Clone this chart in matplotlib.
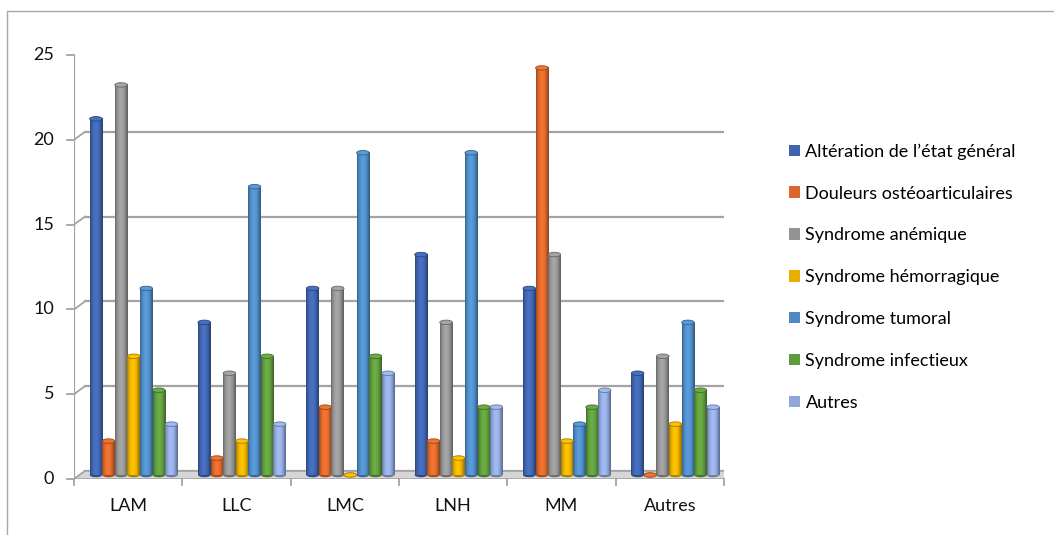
import numpy as np
import matplotlib
matplotlib.use('Agg')
import matplotlib.pyplot as plt
from matplotlib.patches import Ellipse, Polygon, Rectangle, Patch
from matplotlib.transforms import ScaledTranslation, IdentityTransform
from matplotlib.colors import to_rgb

plt.rcParams['font.family'] = ['Lato', 'DejaVu Sans']

# Données
categories = ['LAM', 'LLC', 'LMC', 'LNH', 'MM', 'Autres']
series = ['Altération de l\u2019état général', 'Douleurs ostéoarticulaires',
          'Syndrome anémique', 'Syndrome hémorragique', 'Syndrome tumoral',
          'Syndrome infectieux', 'Autres']
alteration = [21, 9, 11, 13, 11, 6]
douleurs = [2, 1, 4, 2, 24, 0]
anemique = [23, 6, 11, 9, 13, 7]
hemorragique = [7, 2, 0, 1, 2, 3]
tumoral = [11, 17, 19, 19, 3, 9]
infectieux = [5, 7, 7, 4, 4, 5]
autres = [3, 3, 6, 4, 5, 4]
values = [alteration, douleurs, anemique, hemorragique, tumoral, infectieux, autres]
colors = ['#3f64ad', '#d9672b', '#939393', '#e5ae00', '#4e8ac3', '#5f9a3d', '#8fa6d9']

W, H, DPI = 1054, 535, 100
fig = plt.figure(figsize=(W / DPI, H / DPI), dpi=DPI)

# plan avant du graphique
ax = fig.add_axes([74 / W, (H - 479) / H, 650 / W, 424 / H])
ax.set_xlim(-0.5, len(categories) - 0.5)
ax.set_ylim(0, 25)
ax.axis('off')

# profondeur (pixels) : fond et milieu
DX, DY = 11, 8
back = ax.transData + ScaledTranslation(DX / DPI, DY / DPI, fig.dpi_scale_trans)
mid = ax.transData + ScaledTranslation(DX / 2 / DPI, DY / 2 / DPI, fig.dpi_scale_trans)
grid_c = '#a3a3a3'
x0, x1 = -0.5, len(categories) - 0.5


def to_px(x, y, depth=0.0):
    p = ax.transData.transform((x, y))
    return p[0] + depth * DX, p[1] + depth * DY


# sol
floor = [to_px(x0, 0), to_px(x1, 0), to_px(x1, 0, 1), to_px(x0, 0, 1)]
ax.add_patch(Polygon(floor, closed=True, transform=IdentityTransform(),
                     facecolor='#d6d6d6', edgecolor=grid_c, lw=1.2, zorder=1))

# quadrillage du fond + mur gauche
yticks = np.arange(0, 26, 5)
for v in yticks:
    ax.plot([x0, x1], [v, v], color=grid_c, lw=1.6, transform=back, zorder=0.5)
    a, b = to_px(x0, v), to_px(x0, v, 1)
    ax.plot([a[0], b[0]], [a[1], b[1]], color=grid_c, lw=1.3,
            transform=IdentityTransform(), zorder=0.5)
    ax.plot([a[0] - 7, a[0]], [a[1], a[1]], color=grid_c, lw=1.3,
            transform=IdentityTransform(), clip_on=False)
    ax.text(a[0] - 20, a[1], str(v), transform=IdentityTransform(),
            ha='right', va='center', fontsize=13, color='#111111')
ax.plot([x0, x0], [0, 25], color=grid_c, lw=1.6, zorder=0.6)

# graduations de l'axe des x
for i in range(len(categories) + 1):
    a = to_px(i - 0.5, 0)
    ax.plot([a[0], a[0]], [a[1], a[1] - 6], color=grid_c, lw=1.3,
            transform=IdentityTransform(), clip_on=False)
for i, c in enumerate(categories):
    a = to_px(i, 0)
    ax.text(a[0], a[1] - 27, c, transform=IdentityTransform(),
            ha='center', va='center', fontsize=13, color='#111111')

# barres cylindriques
n = len(series)
group = 0.812
bw = group / n
cap_h = 4.5 / (424 / 25)
t = np.linspace(0, 1, 40)
shade = 0.68 + 0.45 * np.sin(np.pi * np.clip(t * 1.08, 0, 1)) ** 0.7
for s, (vals, col) in enumerate(zip(values, colors)):
    rgb = np.array(to_rgb(col))
    grad = np.clip(shade[:, None] * rgb[None, :], 0, 1)[None, :, :]
    top_rgb = np.clip(rgb * 1.12, 0, 1)
    for i, v in enumerate(vals):
        left = i - group / 2 + s * bw
        cx = left + bw / 2
        ax.add_patch(Ellipse((cx, 0), bw, cap_h, transform=mid, facecolor=rgb * 0.75,
                             edgecolor='none', zorder=2, clip_on=False))
        if v > 0:
            ax.imshow(grad, extent=[left, left + bw, 0, v], transform=mid,
                      aspect='auto', interpolation='bilinear', zorder=2.1,
                      clip_on=False)
        ax.add_patch(Ellipse((cx, v), bw, cap_h, transform=mid, facecolor=top_rgb,
                             edgecolor=rgb * 0.7, lw=0.6, zorder=2.2, clip_on=False))
ax.set_xlim(x0, x1)
ax.set_ylim(0, 25)

# légende
handles = [Patch(facecolor=c, edgecolor='none') for c in colors]
fig.legend(handles, series, loc='center left', bbox_to_anchor=(782 / W, (H - 277) / H),
           frameon=False, fontsize=13, handlelength=0.6, handleheight=0.6,
           handletextpad=0.3, labelspacing=1.43, borderaxespad=0)

# cadre du graphique
fig.add_artist(Rectangle((7 / W, -0.1), 1.2, (H - 11) / H + 0.1, transform=fig.transFigure,
                         fill=False, edgecolor='#a6a6a6', lw=1))

fig.savefig('out.png', dpi=DPI)
